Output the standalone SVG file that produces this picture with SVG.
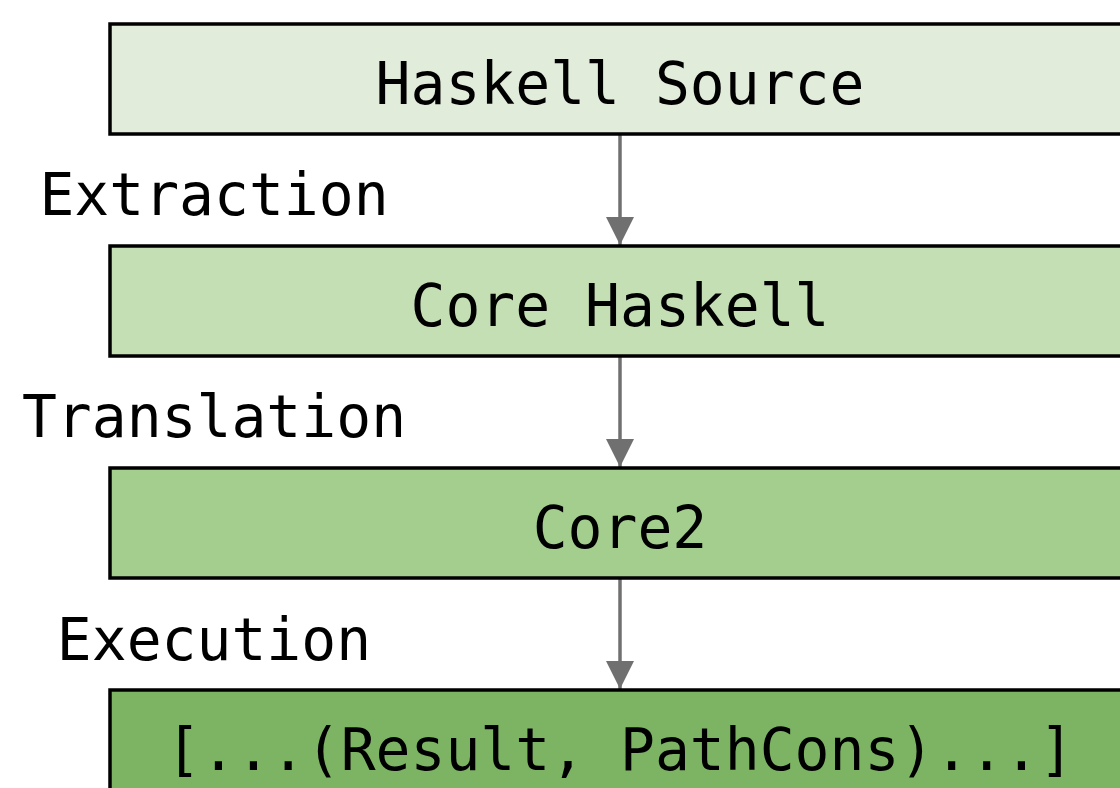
<svg xmlns="http://www.w3.org/2000/svg" width="1120" height="788" viewBox="0 0 1120 788">
<style>
.box{stroke:#000;stroke-width:3.5}
.t{font-family:"DejaVu Sans Mono","Liberation Mono",monospace;font-size:58px;fill:#000;text-anchor:middle}
.c{stroke:#707070;stroke-width:3.5;fill:none}
</style>
<defs>
<marker id="ah" markerUnits="userSpaceOnUse" markerWidth="28" markerHeight="28" refX="28" refY="14" orient="auto" viewBox="0 0 28 28">
<path d="M0,0 L28,14 L0,28 Z" fill="#707070"/>
</marker>
</defs>
<rect width="1120" height="788" fill="#fff"/>
<g id="connectors">
<line class="c" x1="620" y1="135" x2="620" y2="245" marker-end="url(#ah)"/>
<line class="c" x1="620" y1="357" x2="620" y2="467" marker-end="url(#ah)"/>
<line class="c" x1="620" y1="579" x2="620" y2="689" marker-end="url(#ah)"/>
<text class="t" x="214" y="215">Extraction</text>
<text class="t" x="214" y="437">Translation</text>
<text class="t" x="214" y="660">Execution</text>
</g>
<g id="n1"><rect class="box" x="110" y="24" width="1030" height="110" fill="#E1ECDA"/><text class="t" x="620" y="104">Haskell Source</text></g>
<g id="n2"><rect class="box" x="110" y="246" width="1030" height="110" fill="#C5DFB5"/><text class="t" x="620" y="326">Core Haskell</text></g>
<g id="n3"><rect class="box" x="110" y="468" width="1030" height="110" fill="#A4CE8E"/><text class="t" x="620" y="548">Core2</text></g>
<g id="n4"><rect class="box" x="110" y="690" width="1030" height="110" fill="#7DB464"/><text class="t" x="620" y="770">[...(Result, PathCons)...]</text></g>
</svg>
